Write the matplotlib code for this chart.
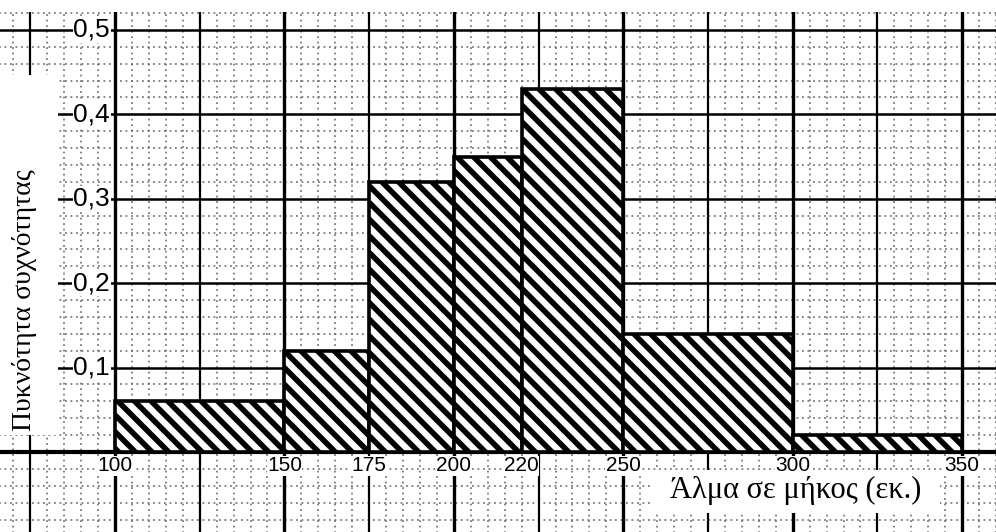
import numpy as np
import matplotlib.pyplot as plt
from matplotlib.patches import Rectangle

# class edges (cm) and frequency density
edges = [100, 150, 175, 200, 220, 250, 300, 350]
density = [0.06, 0.12, 0.32, 0.35, 0.43, 0.14, 0.02]
xticks = [100, 150, 175, 200, 220, 250, 300, 350]
yticks = [0.1, 0.2, 0.3, 0.4, 0.5]
ytick_labels = ["0,1", "0,2", "0,3", "0,4", "0,5"]
xlabel = "Άλμα σε μήκος (εκ.)"
ylabel = "Πυκνότητα συχνότητας"

plt.rcParams['hatch.linewidth'] = 4.0
plt.rcParams['font.family'] = ['Liberation Sans', 'DejaVu Sans']

fig = plt.figure(figsize=(9.96, 5.32), dpi=100)
ax = fig.add_axes([0, 0, 1, 1])
ax.set_xlim(66.06, 360.0)
ax.set_ylim(-0.0948, 0.5355)
ax.axis('off')

top = 0.521  # top edge of the graph paper

# graph paper: dotted minor lines every 5 units / 0.02
for x in np.arange(65, 361, 5):
    if x % 25:
        ax.plot([x, x], [-0.1, top], color='0.4', lw=1.1, ls=(0, (1.2, 2.4)), zorder=1)
for k in range(-5, 27):
    y = k * 0.02
    if k % 5:
        ax.plot([60, 365], [y, y], color='0.4', lw=1.1, ls=(0, (1.2, 2.4)), zorder=1)

# solid major lines every 25 units / 0.1
for x in range(75, 361, 25):
    ax.plot([x, x], [-0.1, top], color='black', lw=2.4 if x % 50 == 0 else 1.6, zorder=2)
for y in yticks:
    ax.plot([60, 365], [y, y], color='black', lw=1.8, zorder=2)
ax.plot([60, 365], [0, 0], color='black', lw=3, zorder=2)

# histogram bars
ax.bar(edges[:-1], density, width=np.diff(edges), align='edge',
       facecolor='white', edgecolor='black', hatch='\\\\', lw=2.6, zorder=3)

# white paper margins and label patches
ax.add_patch(Rectangle((0, 0.977), 1, 0.03, transform=ax.transAxes,
                       facecolor='white', edgecolor='none', zorder=4))
ax.add_patch(Rectangle((0, 0.183), 0.058, 0.676, transform=ax.transAxes,
                       facecolor='white', edgecolor='none', zorder=4))
ax.add_patch(Rectangle((0.653, 0.036), 0.291, 0.081, transform=ax.transAxes,
                       facecolor='white', edgecolor='none', zorder=4))

# tick labels
for y, lab in zip(yticks, ytick_labels):
    ax.text(98.5, y, lab, fontsize=19, ha='right', va='center', zorder=6,
            bbox=dict(facecolor='white', edgecolor='none', pad=0.5))
for x in xticks:
    ax.text(x, -0.005, str(x), fontsize=15, ha='center', va='top', zorder=6,
            bbox=dict(facecolor='white', edgecolor='none', pad=0.3))

# axis titles
ax.text(0.799, 0.078, xlabel, transform=ax.transAxes, fontsize=22, ha='center', va='center',
        family=['Liberation Serif', 'DejaVu Serif'], zorder=5)
ax.text(0.025, 0.435, ylabel, transform=ax.transAxes, fontsize=20, ha='center', va='center',
        rotation=90, family=['Liberation Serif', 'DejaVu Serif'], zorder=5)

fig.savefig('out.png', dpi=100)
